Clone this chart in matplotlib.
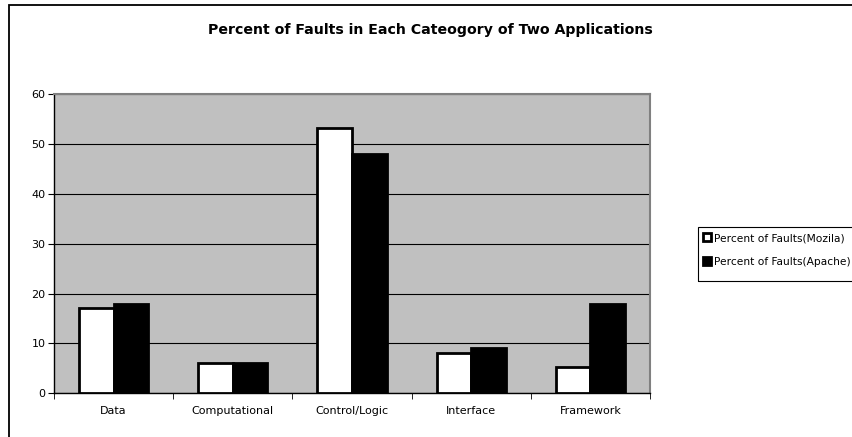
import numpy as np
import matplotlib.pyplot as plt
from matplotlib.patches import Rectangle

categorias = ["Data", "Computational", "Control/Logic", "Interface", "Framework"]
mozilla = [17.2, 6, 53.3, 8, 5.3]
apache = [18, 6, 48, 9, 18]
series = ["Percent of Faults(Mozila)", "Percent of Faults(Apache)"]

plt.rcParams['font.family'] = ['DejaVu Sans']

fig = plt.figure(figsize=(8.52, 4.37), dpi=100)
ax = fig.add_axes([54 / 852, 1 - 393.3 / 437, (650 - 54) / 852, (393.3 - 94.3) / 437])

# marco exterior del grafico
fig.patches.append(Rectangle((9 / 852, -0.1), 1.2, 1 - 5 / 437 + 0.1,
                             transform=fig.transFigure, fill=False,
                             edgecolor="black", linewidth=1.3))
# marco de la leyenda
fig.patches.append(Rectangle((698 / 852, 1 - 281 / 437), 0.3, 54 / 437,
                             transform=fig.transFigure, fill=False,
                             edgecolor="black", linewidth=0.8))

x = np.arange(len(categorias))
ancho = 0.29
ax.bar(x - ancho / 2, mozilla, ancho, color="white", edgecolor="black",
       linewidth=2, label=series[0], zorder=3)
ax.bar(x + ancho / 2, apache, ancho, color="black", edgecolor="black",
       linewidth=2, label=series[1], zorder=3)

ax.set_facecolor("#c0c0c0")
ax.set_xlim(-0.5, len(categorias) - 0.5)
ax.set_ylim(0, 60)
ax.set_yticks(range(0, 61, 10))
ax.yaxis.grid(True, color="black", linewidth=0.8, zorder=1)

ax.set_xticks(x)
ax.set_xticklabels(categorias, fontsize=8)
ax.set_xticks(np.arange(-0.5, len(categorias), 1), minor=True)
ax.tick_params(axis="x", which="major", length=0, pad=9)
ax.tick_params(axis="x", which="minor", length=4, direction="out", color="black")
ax.tick_params(axis="y", labelsize=8, length=4, direction="out", pad=2)

for s in ["left", "bottom"]:
    ax.spines[s].set_color("black")
    ax.spines[s].set_linewidth(1)
for s in ["top", "right"]:
    ax.spines[s].set_color("#808080")
    ax.spines[s].set_linewidth(1.5)

fig.text(0.505, 1 - 30 / 437, "Percent of Faults in Each Cateogory of Two Applications",
         ha="center", va="center", fontsize=10.2, fontweight="bold")

leg = fig.legend(loc="center left", bbox_to_anchor=(698 / 852, 1 - 250 / 437),
                 fontsize=7.7, frameon=False,
                 handlelength=0.8, handleheight=0.8, handletextpad=0.2,
                 borderpad=0.45, labelspacing=1.3, borderaxespad=0)

fig.savefig("out.png", dpi=100)
